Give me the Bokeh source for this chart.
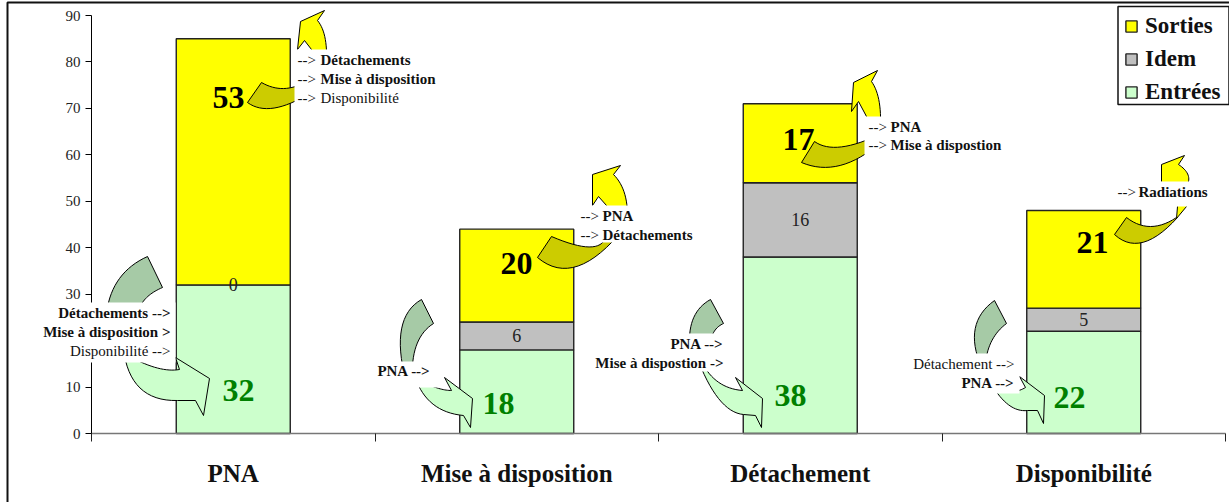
from bokeh.embed import file_html
from bokeh.resources import INLINE
from bokeh.plotting import figure
from bokeh.models import (ColumnDataSource, Range1d, LinearAxis, FixedTicker, BoxAnnotation,
                          LabelSet, Legend, LegendItem)
from bokeh.core.properties import value

# ---- data
categories = ["PNA", "Mise à disposition", "Détachement", "Disponibilité"]
entrees = [32, 18, 38, 22]
idem = [0, 6, 16, 5]
sorties = [53, 20, 17, 21]
y_ticks = [0, 10, 20, 30, 40, 50, 60, 70, 80, 90]

notes_after = [
    ("-->", "Détachements", True), ("-->", "Mise à disposition", True), ("-->", "Disponibilité", False),
    ("-->", "PNA", True), ("-->", "Détachements", True),
    ("-->", "PNA", True), ("-->", "Mise à dispostion", True),
    ("-->", "Radiations", True),
]
notes_before = [
    ("Détachements -->", True), ("Mise à disposition >", True), ("Disponibilité -->", False),
    ("PNA -->", True),
    ("PNA -->", True), ("Mise à dispostion ->", True),
    ("Détachement -->", False), ("PNA -->", True),
]

# ---- layout helpers: reference pixel -> data
FONT = "Liberation Serif"
X0, Y0, XS, YS = 91.0, 433.0, 283.5, 418.0 / 90
CW, CH = 1229, 502


def px(x):
    return (x - X0) / XS


def py(y):
    return (Y0 - y) / YS


def path(*items):
    """Polygon in page pixels. (x, y) is a vertex, (cx, cy, x, y) a quadratic curve to (x, y)."""
    xs, ys = [], []
    for it in items:
        if len(it) == 2:
            xs.append(it[0]); ys.append(it[1])
        else:
            cx, cy, x, y = it
            x0, y0 = xs[-1], ys[-1]
            for i in range(1, 15):
                t = i / 14
                xs.append((1 - t) ** 2 * x0 + 2 * t * (1 - t) * cx + t * t * x)
                ys.append((1 - t) ** 2 * y0 + 2 * t * (1 - t) * cy + t * t * y)
    return [px(v) for v in xs], [py(v) for v in ys]


p = figure(width=CW, height=CH, output_backend="svg", toolbar_location=None,
           x_range=Range1d(px(0), px(CW)), y_range=Range1d(py(CH), py(0)),
           x_axis_type=None, y_axis_type=None,
           min_border_left=0, min_border_right=0, min_border_top=0, min_border_bottom=0)
p.outline_line_color = None
p.grid.visible = False
p.background_fill_color = "white"

# ---- axes
ya = LinearAxis(ticker=FixedTicker(ticks=y_ticks), bounds=(0, 90), fixed_location=0)
ya.major_tick_in = 0
ya.major_tick_out = 6
ya.minor_tick_line_color = None
ya.major_label_text_font = FONT
ya.major_label_text_font_size = "15px"
ya.major_label_text_color = "#222222"
ya.major_label_standoff = 5
ya.axis_line_color = "black"
ya.major_tick_line_color = "black"
p.add_layout(ya, "left")

centers = [i + 0.5 for i in range(len(categories))]
xa = LinearAxis(ticker=FixedTicker(ticks=centers, minor_ticks=[0, 1, 2, 3, 4]), bounds=(0, 4), fixed_location=0)
xa.major_label_overrides = dict(zip(centers, categories))
xa.major_tick_line_color = None
xa.major_tick_in = 0
xa.major_tick_out = 0
xa.minor_tick_in = 0
xa.minor_tick_out = 8
xa.minor_tick_line_color = "#222222"
xa.axis_line_color = "#777777"
xa.axis_line_width = 1.6
xa.major_label_text_font = FONT
xa.major_label_text_font_style = "bold"
xa.major_label_text_font_size = "25px"
xa.major_label_text_color = "#111111"
xa.major_label_standoff = 18
p.add_layout(xa, "below")

# ---- bars
src = ColumnDataSource(dict(x=centers, Entrees=entrees, Idem=idem, Sorties=sorties))
stack = p.vbar_stack(["Entrees", "Idem", "Sorties"], x="x", width=114 / XS, source=src,
                     fill_color=["#CCFFCC", "#C0C0C0", "#FFFF00"],
                     line_color="#222222", line_width=1.4)

# ---- curved arrows (decoration)
YEL, OLV, LGT, DRK = "#FFFF00", "#CCCC00", "#CCFFCC", "#A6CAA6"
shapes = [
    (YEL, path((324, 10), (317, 20), (327, 32, 326, 60), (311, 60), (311, 49), (304, 40), (297, 49), (300, 21))),
    (OLV, path((247, 102), (261, 82), (280, 93, 300, 84), (300, 98), (266, 116, 247, 102))),
    (YEL, path((620, 165), (613, 174), (627, 188, 627, 215), (606, 215), (606, 205), (598, 196), (592, 205), (592, 174))),
    (OLV, path((537, 257), (551, 236), (593, 254, 603, 241), (612, 241), (570, 285, 537, 257))),
    (YEL, path((877, 70), (871, 81), (881, 95, 880, 125), (866, 125), (866, 116), (858, 101), (851, 111), (853, 82))),
    (OLV, path((801, 162), (814, 141), (832, 154, 870, 138), (870, 150), (834, 176, 801, 162))),
    (YEL, path((1184, 155), (1178, 164), (1190, 172, 1188, 181), (1186, 206), (1176, 218), (1177, 206), (1165, 190), (1161, 181), (1161, 164))),
    (OLV, path((1114, 234), (1126, 217), (1149, 235, 1176, 217), (1177, 217), (1140, 258, 1114, 234))),
    (DRK, path((147, 256), (162, 287), (148, 293, 142, 302), (142, 310), (108, 310), (108, 302), (116, 270, 147, 256))),
    (LGT, path((125, 360), (135, 401, 177, 400), (195, 400), (203, 415), (209, 378), (175, 357), (179, 369), (162, 372, 137, 360))),
    (DRK, path((421, 299), (433, 323), (414, 335, 412, 365), (402, 365), (393, 315, 421, 299))),
    (LGT, path((418, 385), (431, 412, 463, 415), (470, 427), (472, 398), (444, 377), (451, 390), (442, 390, 430, 385))),
    (DRK, path((710, 299), (723, 323), (714, 327, 711, 337), (689, 337), (690, 310, 710, 299))),
    (LGT, path((701, 368), (720, 412, 743, 414), (755, 415), (761, 427), (762, 398), (735, 377), (742, 390), (718, 388, 705, 368))),
    (DRK, path((994, 300), (1006, 323), (990, 335, 986, 356), (977, 356), (966, 320, 994, 300))),
    (LGT, path((995, 390), (1010, 412, 1027, 410), (1037, 410), (1043, 423), (1044, 395), (1019, 376), (1025, 387), (1015, 393, 1005, 390))),
]
p.patches(xs=[s[1][0] for s in shapes], ys=[s[1][1] for s in shapes],
          fill_color=[s[0] for s in shapes], line_color="black", line_width=1)

# ---- value labels on the bars
big_x = [228, 516, 798, 1092, 238, 498, 790, 1069]
big_y = [97, 263, 139, 242, 390, 403, 395, 397]
big_src = ColumnDataSource(dict(x=[px(v) for v in big_x], y=[py(v) for v in big_y],
                                t=[str(v) for v in sorties + entrees],
                                c=["black"] * 4 + ["#008000"] * 4))
p.text("x", "y", text="t", source=big_src, text_color="c", text_font=value(FONT),
       text_font_style="bold", text_font_size="32px", text_align="center", text_baseline="middle")

mid_src = ColumnDataSource(dict(x=centers, y=[e + i / 2 for e, i in zip(entrees, idem)],
                                t=[str(v) for v in idem]))
p.text("x", "y", text="t", source=mid_src, text_color="#222222", text_font=value(FONT),
       text_font_size="18px", text_align="center", text_baseline="middle")

# ---- page frame (clipped by the page at the right and bottom, as in the reference)
p.add_layout(BoxAnnotation(left=px(7), right=px(1400), top=py(2), bottom=py(900),
                           fill_color=None, line_color="#111111", line_alpha=1, line_width=2))

# ---- white boxes behind the notes
for l, t, r, b in [(294, 49, 440, 105), (576, 205, 697, 242), (864, 116, 1003, 155), (1113, 181, 1208, 206),
                   (40, 302, 175, 362), (378, 361, 443, 387), (596, 333, 723, 371), (916, 353, 1019, 393)]:
    p.add_layout(BoxAnnotation(left=px(l), right=px(r), top=py(t), bottom=py(b),
                               fill_color="white", fill_alpha=1, line_color=None))

# ---- notes
after_arrow_x = [297, 297, 297, 580, 580, 868, 868, 1117]
after_word_x = [320, 320, 320, 602, 602, 890, 890, 1138]
after_y = [59.5, 78, 97, 215, 234, 126, 144.5, 191.5]
before_x = [170, 170, 170, 430, 723, 723, 1014, 1014]
before_y = [312, 331, 350, 370, 343, 362.5, 363, 382.5]


def notes(xs, ys, texts, bold, align):
    if not texts:
        return
    s = ColumnDataSource(dict(x=[px(v) for v in xs], y=[py(v) for v in ys], t=texts))
    p.add_layout(LabelSet(x="x", y="y", text="t", source=s, text_font=value(FONT),
                          text_font_size="15px", text_font_style="bold" if bold else "normal",
                          text_color="#111111", text_align=align, text_baseline="middle"))


notes(after_arrow_x, after_y, [n[0] for n in notes_after], False, "left")
for flag in (True, False):
    idx = [i for i, n in enumerate(notes_after) if n[2] == flag]
    notes([after_word_x[i] for i in idx], [after_y[i] for i in idx], [notes_after[i][1] for i in idx], flag, "left")
    idx = [i for i, n in enumerate(notes_before) if n[1] == flag]
    notes([before_x[i] for i in idx], [before_y[i] for i in idx], [notes_before[i][0] for i in idx], flag, "right")

# ---- legend: box drawn separately so that the rows sit as low in it as in the reference
p.add_layout(BoxAnnotation(left=px(1117.5), right=px(1228.5), top=py(6), bottom=py(104),
                           fill_color="white", fill_alpha=1, line_color="#111111", line_alpha=1, line_width=1.5))
legend = Legend(items=[LegendItem(label="Sorties", renderers=[stack[2]]),
                       LegendItem(label="Idem", renderers=[stack[1]]),
                       LegendItem(label="Entrées", renderers=[stack[0]])],
                location=(1124, 397), orientation="vertical",
                label_text_font=FONT, label_text_font_style="bold", label_text_font_size="23px",
                label_text_color="#111111", glyph_width=14, glyph_height=14, label_standoff=7,
                label_height=27, spacing=6, padding=0, margin=0,
                border_line_color=None, background_fill_alpha=0)
p.add_layout(legend, "center")

open("out.html", "w").write(file_html(p, INLINE))
